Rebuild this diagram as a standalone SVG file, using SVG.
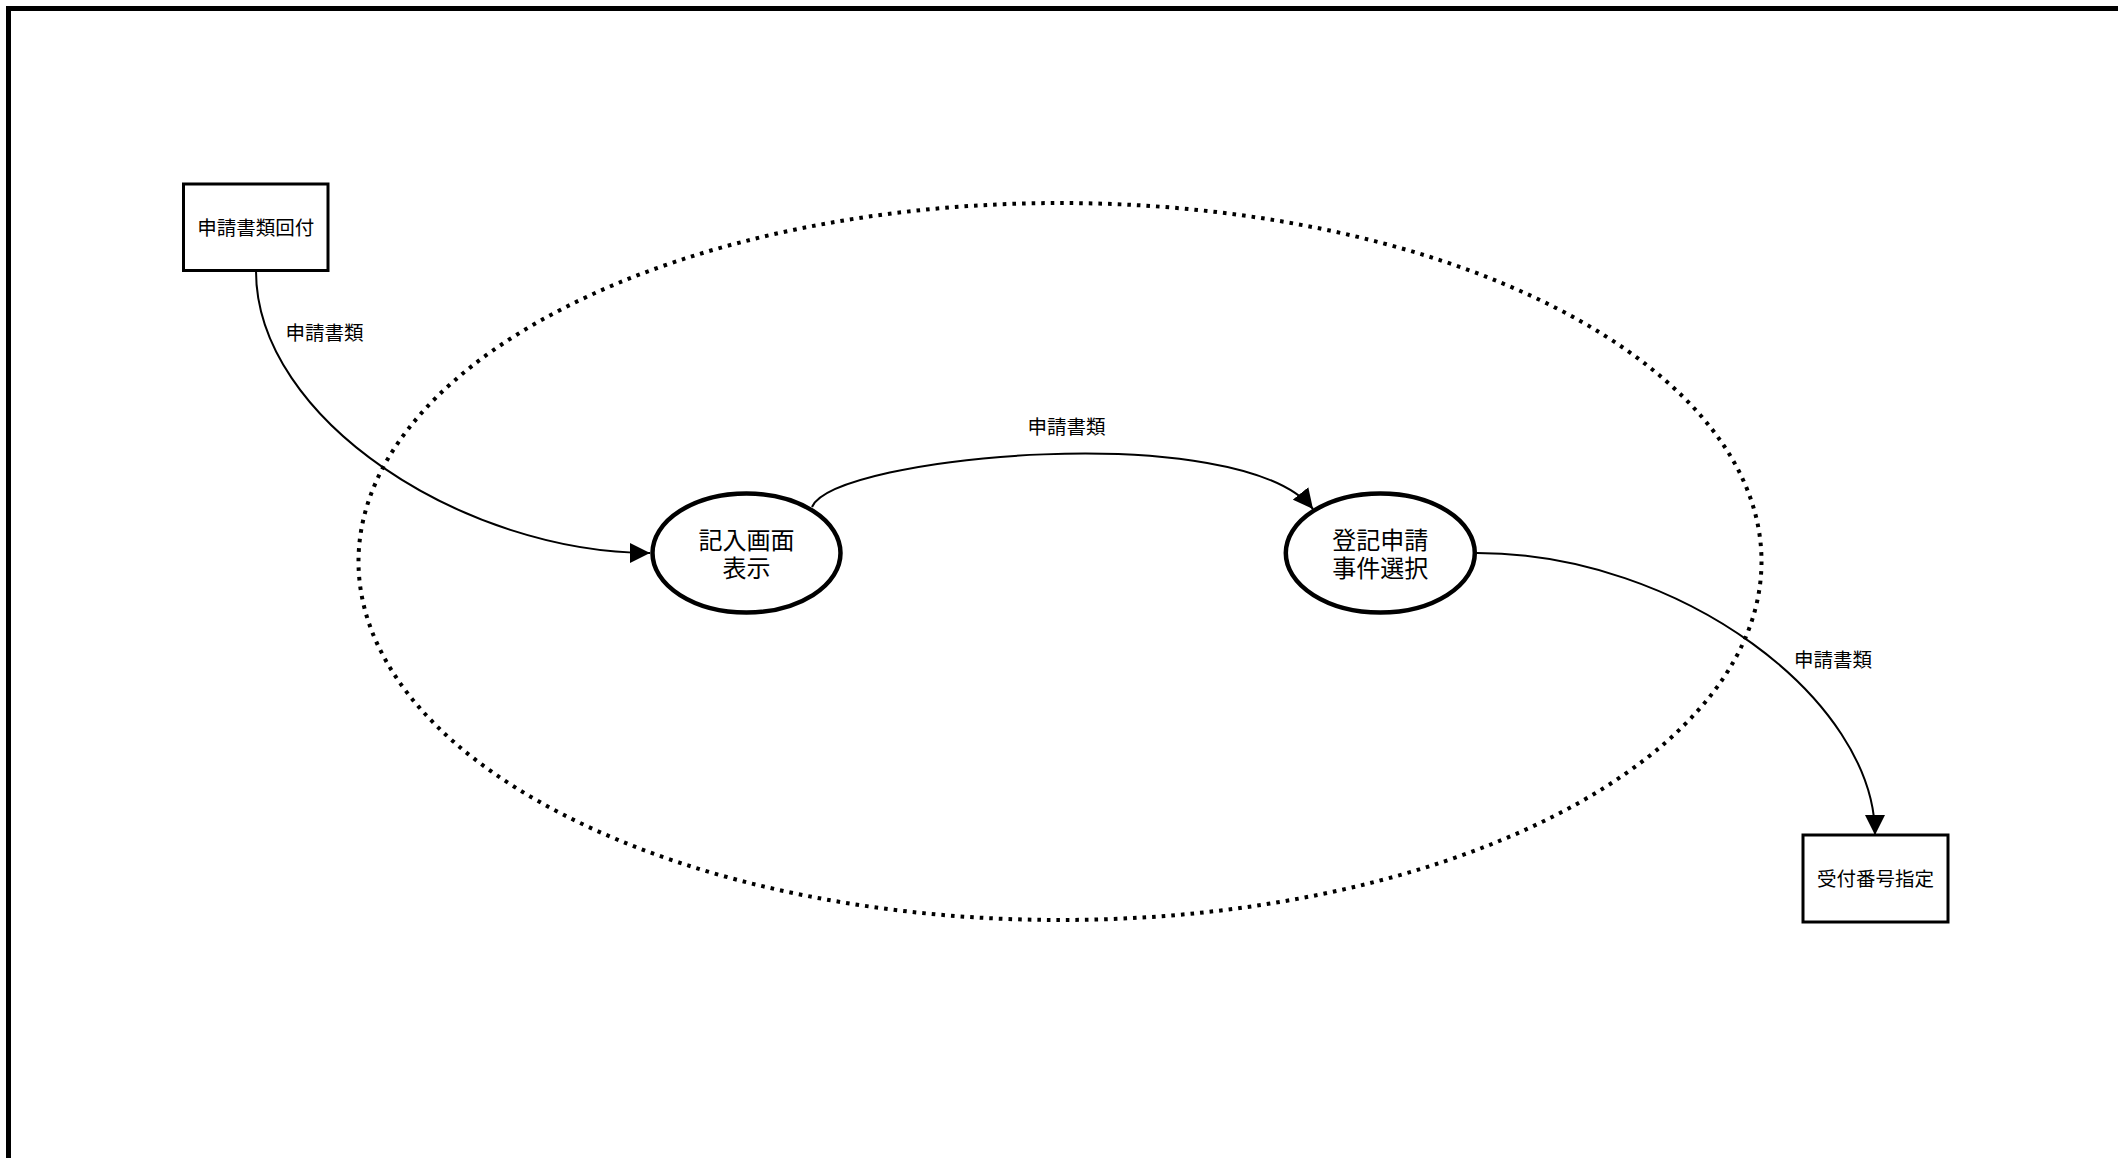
<svg xmlns="http://www.w3.org/2000/svg" width="2118" height="1158" viewBox="0 0 2118 1158">
<defs>
<style>
text{font-family:"Liberation Sans","Noto Sans CJK JP",sans-serif;fill:#000;text-anchor:middle;dominant-baseline:central}
.box{fill:#fff;stroke:#000;stroke-width:3}
.proc{fill:#fff;stroke:#000;stroke-width:4.5}
.edge{fill:none;stroke:#000;stroke-width:2}
.lbl{font-size:19.5px}
.ntxt{font-size:24px}
</style>
<marker id="arr" markerUnits="userSpaceOnUse" markerWidth="20" markerHeight="20" refX="18" refY="9" orient="auto" viewBox="0 0 18 18">
<path d="M0,0 L18,9 L0,18 z" fill="#000"/>
</marker>
</defs>
<rect x="0" y="0" width="2118" height="1158" fill="#fff"/>
<rect id="frame" x="8.5" y="8.5" width="2200" height="1200" fill="none" stroke="#000" stroke-width="5"/>
<ellipse id="boundary" cx="1060" cy="561.5" rx="701.5" ry="358.5" fill="none" stroke="#000" stroke-width="4" stroke-dasharray="3.6 6"/>
<g id="connectors">
<path class="edge" d="M256,271 C256,420 465,553 650,553" marker-end="url(#arr)"/>
<path class="edge" d="M812,507 C835,455 1240,418 1313,509" marker-end="url(#arr)"/>
<path class="edge" d="M1477,553 C1680,553 1875,700 1875,835" marker-end="url(#arr)"/>
<text class="lbl" x="324.5" y="333">申請書類</text>
<text class="lbl" x="1066.5" y="427">申請書類</text>
<text class="lbl" x="1833" y="660">申請書類</text>
</g>
<g id="n1">
<rect class="box" x="183.5" y="184" width="144.5" height="86.5"/>
<text class="lbl" x="255.75" y="227.5">申請書類回付</text>
</g>
<g id="n2">
<ellipse class="proc" cx="746.5" cy="553" rx="94" ry="59.5"/>
<text class="ntxt" x="746.5" y="540">記入画面</text>
<text class="ntxt" x="746.5" y="568">表示</text>
</g>
<g id="n3">
<ellipse class="proc" cx="1380.3" cy="553" rx="94.5" ry="59.5"/>
<text class="ntxt" x="1380.3" y="540">登記申請</text>
<text class="ntxt" x="1380.3" y="568">事件選択</text>
</g>
<g id="n4">
<rect class="box" x="1803" y="835" width="145" height="87"/>
<text class="lbl" x="1875.5" y="878.5">受付番号指定</text>
</g>
</svg>
